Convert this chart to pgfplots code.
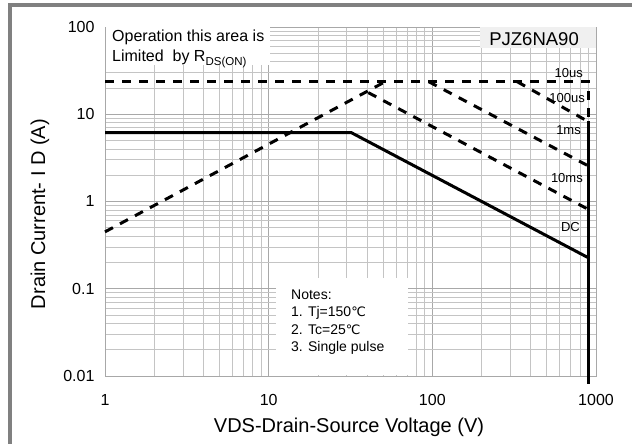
\documentclass[border=0pt]{standalone}
\usepackage{fontspec}
\setmainfont{Liberation Sans}
\newfontfamily\dejavu{DejaVu Sans}
\usepackage{pgfplots}
\pgfplotsset{compat=1.18}
\definecolor{bordergray}{HTML}{808080}
\definecolor{majgrid}{HTML}{A8A8A8}
\definecolor{mingrid}{HTML}{C4C4C4}
\begin{document}
\begin{tikzpicture}[x=1bp,y=1bp]
\useasboundingbox (0,0) rectangle (632,444);
\fill[bordergray] (7.5,437) rectangle (632,441);
\fill[bordergray] (7.5,0) rectangle (11.5,441);
\begin{axis}[
  at={(105bp,68bp)}, anchor=south west,
  scale only axis, width=491bp, height=349bp,
  xmode=log, ymode=log,
  xmin=1, xmax=1000, ymin=0.01, ymax=100,
  xtick={1,10,100,1000}, xticklabels={1,10,100,1000},
  ytick={0.01,0.1,1,10,100}, yticklabels={0.01,0.1,1,10,100},
  minor xtick={2,3,4,5,6,7,8,9,20,30,40,50,60,70,80,90,200,300,400,500,600,700,800,900},
  minor ytick={0.02,0.03,0.04,0.05,0.06,0.07,0.08,0.09,0.2,0.3,0.4,0.5,0.6,0.7,0.8,0.9,2,3,4,5,6,7,8,9,20,30,40,50,60,70,80,90},
  grid=both,
  major grid style={majgrid, line width=0.8bp},
  minor grid style={mingrid, line width=0.8bp},
  major tick length=0pt, minor tick length=0pt,
  axis line style={majgrid, line width=0.8bp},
  tick label style={font=\fontsize{16bp}{18bp}\selectfont},
  xticklabel style={yshift=-15bp},
  yticklabel style={xshift=-7bp},
  clip=false,
  dsh/.style={black, line width=3bp, dash pattern=on 9bp off 8bp},
  sld/.style={black, line width=3bp},
]
% 10us
\addplot[dsh] coordinates {(1,23.6) (900,23.6) (900,8.2)};
% RDS(on) limit
\addplot[dsh] coordinates {(1,0.449) (51.5,23.6)};
% 10ms
\addplot[dsh] coordinates {(40.6,17.7) (900,0.81)};
% 1ms
\addplot[dsh] coordinates {(95,23.6) (900,2.55)};
% 100us
\addplot[dsh] coordinates {(330,23.6) (900,8.2)};
% DC
\addplot[sld] coordinates {(1,6.15) (32,6.15) (900,0.226)};
% BVDSS limit
\addplot[black, line width=3.5bp] coordinates {(900,8.4) (900,0.0082)};
\end{axis}
% annotation boxes
\fill[white] (106,379) rectangle (270,416.5);
\node[anchor=base west, inner sep=0pt, font=\fontsize{16bp}{18bp}\selectfont] at (112,402.3) {Operation this area is};
\node[anchor=base west, inner sep=0pt, font=\fontsize{16bp}{18bp}\selectfont] at (112,382.3) {Limited\ \ by R\raisebox{-3.5bp}{\fontsize{11.5bp}{13bp}\selectfont DS(ON)}};
\fill[black!6] (480,396) rectangle (595.5,416.5);
\node[anchor=base east, inner sep=0pt, font=\fontsize{18.5bp}{20bp}\selectfont] at (579,398) {PJZ6NA90};
\fill[white] (276,69) rectangle (408,166);
\begin{scope}[every node/.style={anchor=base west, inner sep=0pt, font=\fontsize{14bp}{16bp}\selectfont}]
\node at (291,144.5) {Notes:};
\node at (291,127.3) {1. Tj=150{\dejavu\fontsize{13bp}{15bp}\selectfont ℃}};
\node at (291,109) {2. Tc=25{\dejavu\fontsize{13bp}{15bp}\selectfont ℃}};
\node at (291,92.3) {3. Single pulse};
\end{scope}
\begin{scope}[every node/.style={anchor=base east, inner sep=0pt, font=\fontsize{13bp}{15bp}\selectfont}]
\node at (583,366) {10us};
\node at (585,341) {100us};
\node at (581,309) {1ms};
\node at (583,261) {10ms};
\node at (580,212) {DC};
\end{scope}
% axis titles
\node[rotate=90, font=\fontsize{20bp}{22bp}\selectfont] at (40,230) {Drain Current- I D (A)};
\node[font=\fontsize{20bp}{22bp}\selectfont] at (349,17) {VDS-Drain-Source Voltage (V)};
\end{tikzpicture}
\end{document}
